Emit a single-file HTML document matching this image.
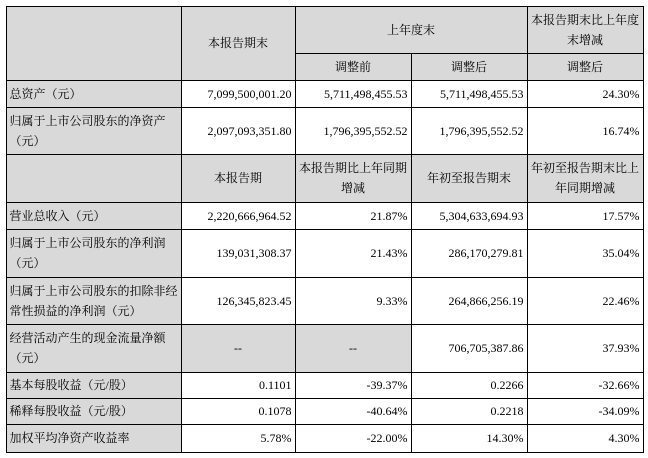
<!DOCTYPE html>
<html><head><meta charset="utf-8"><style>
body{margin:0;width:648px;height:458px;background:#fff;position:relative;overflow:hidden;font-family:"Liberation Serif","Noto Serif CJK SC",serif;font-size:12px;color:#000}
.c{position:absolute;box-sizing:border-box;border:1px solid #000;margin:-0.5px;display:flex;align-items:center;line-height:20px;padding:0 3px;background:#fff}
.g{background:#d9d9d9}
.l{justify-content:flex-start;text-align:left}
.r{justify-content:flex-end;text-align:right}
.m{justify-content:center;text-align:center}
</style></head><body>
<div class="c g m" style="left:6px;top:6px;width:176px;height:75px"></div>
<div class="c g m" style="left:181px;top:6px;width:115px;height:75px">本报告期末</div>
<div class="c g m" style="left:295px;top:6px;width:233px;height:48px">上年度末</div>
<div class="c g m" style="left:527px;top:6px;width:117px;height:48px;padding:0 2px">本报告期末比上年度末增减</div>
<div class="c g m" style="left:295px;top:53px;width:117px;height:28px">调整前</div>
<div class="c g m" style="left:411px;top:53px;width:117px;height:28px">调整后</div>
<div class="c g m" style="left:527px;top:53px;width:117px;height:28px">调整后</div>

<div class="c g l" style="left:6px;top:80px;width:176px;height:28px">总资产（元）</div>
<div class="c r" style="left:181px;top:80px;width:115px;height:28px">7,099,500,001.20</div>
<div class="c r" style="left:295px;top:80px;width:117px;height:28px">5,711,498,455.53</div>
<div class="c r" style="left:411px;top:80px;width:117px;height:28px">5,711,498,455.53</div>
<div class="c r" style="left:527px;top:80px;width:117px;height:28px">24.30%</div>

<div class="c g l" style="left:6px;top:107px;width:176px;height:48px">归属于上市公司股东的净资产（元）</div>
<div class="c r" style="left:181px;top:107px;width:115px;height:48px">2,097,093,351.80</div>
<div class="c r" style="left:295px;top:107px;width:117px;height:48px">1,796,395,552.52</div>
<div class="c r" style="left:411px;top:107px;width:117px;height:48px">1,796,395,552.52</div>
<div class="c r" style="left:527px;top:107px;width:117px;height:48px">16.74%</div>

<div class="c g m" style="left:6px;top:154px;width:176px;height:49px"></div>
<div class="c g m" style="left:181px;top:154px;width:115px;height:49px">本报告期</div>
<div class="c g m" style="left:295px;top:154px;width:117px;height:49px;padding:0 1px">本报告期比上年同期增减</div>
<div class="c g m" style="left:411px;top:154px;width:117px;height:49px">年初至报告期末</div>
<div class="c g m" style="left:527px;top:154px;width:117px;height:49px;padding:0 1px">年初至报告期末比上年同期增减</div>

<div class="c g l" style="left:6px;top:202px;width:176px;height:28px">营业总收入（元）</div>
<div class="c r" style="left:181px;top:202px;width:115px;height:28px">2,220,666,964.52</div>
<div class="c r" style="left:295px;top:202px;width:117px;height:28px">21.87%</div>
<div class="c r" style="left:411px;top:202px;width:117px;height:28px">5,304,633,694.93</div>
<div class="c r" style="left:527px;top:202px;width:117px;height:28px">17.57%</div>

<div class="c g l" style="left:6px;top:229px;width:176px;height:49px">归属于上市公司股东的净利润（元）</div>
<div class="c r" style="left:181px;top:229px;width:115px;height:49px">139,031,308.37</div>
<div class="c r" style="left:295px;top:229px;width:117px;height:49px">21.43%</div>
<div class="c r" style="left:411px;top:229px;width:117px;height:49px">286,170,279.81</div>
<div class="c r" style="left:527px;top:229px;width:117px;height:49px">35.04%</div>

<div class="c g l" style="left:6px;top:277px;width:176px;height:48px">归属于上市公司股东的扣除非经常性损益的净利润（元）</div>
<div class="c r" style="left:181px;top:277px;width:115px;height:48px">126,345,823.45</div>
<div class="c r" style="left:295px;top:277px;width:117px;height:48px">9.33%</div>
<div class="c r" style="left:411px;top:277px;width:117px;height:48px">264,866,256.19</div>
<div class="c r" style="left:527px;top:277px;width:117px;height:48px">22.46%</div>

<div class="c g l" style="left:6px;top:324px;width:176px;height:49px">经营活动产生的现金流量净额（元）</div>
<div class="c g m" style="left:181px;top:324px;width:115px;height:49px">--</div>
<div class="c g m" style="left:295px;top:324px;width:117px;height:49px">--</div>
<div class="c r" style="left:411px;top:324px;width:117px;height:49px">706,705,387.86</div>
<div class="c r" style="left:527px;top:324px;width:117px;height:49px">37.93%</div>

<div class="c g l" style="left:6px;top:372px;width:176px;height:27px">基本每股收益（元/股）</div>
<div class="c r" style="left:181px;top:372px;width:115px;height:27px">0.1101</div>
<div class="c r" style="left:295px;top:372px;width:117px;height:27px">-39.37%</div>
<div class="c r" style="left:411px;top:372px;width:117px;height:27px">0.2266</div>
<div class="c r" style="left:527px;top:372px;width:117px;height:27px">-32.66%</div>

<div class="c g l" style="left:6px;top:398px;width:176px;height:27px">稀释每股收益（元/股）</div>
<div class="c r" style="left:181px;top:398px;width:115px;height:27px">0.1078</div>
<div class="c r" style="left:295px;top:398px;width:117px;height:27px">-40.64%</div>
<div class="c r" style="left:411px;top:398px;width:117px;height:27px">0.2218</div>
<div class="c r" style="left:527px;top:398px;width:117px;height:27px">-34.09%</div>

<div class="c g l" style="left:6px;top:424px;width:176px;height:29px">加权平均净资产收益率</div>
<div class="c r" style="left:181px;top:424px;width:115px;height:29px">5.78%</div>
<div class="c r" style="left:295px;top:424px;width:117px;height:29px">-22.00%</div>
<div class="c r" style="left:411px;top:424px;width:117px;height:29px">14.30%</div>
<div class="c r" style="left:527px;top:424px;width:117px;height:29px">4.30%</div>
</body></html>
